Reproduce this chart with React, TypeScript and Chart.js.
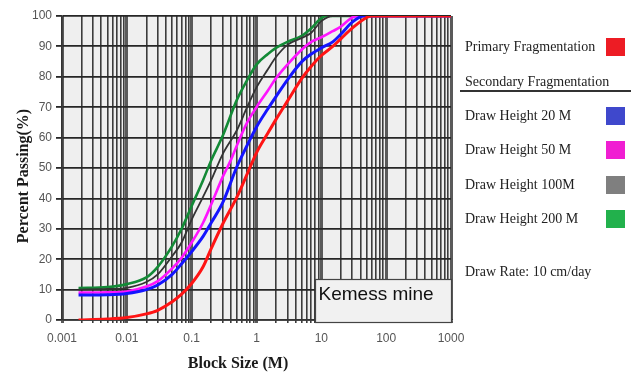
import React, { useEffect, useRef } from 'react';
import { Chart, registerables } from 'chart.js';

Chart.register(...registerables);

// ---- Axis ticks ----
const decades = [0.001, 0.01, 0.1, 1, 10, 100, 1000];
const decadeLabels = ['0.001', '0.01', '0.1', '1', '10', '100', '1000'];
const minorMultipliers = [2, 3, 4, 5, 6, 7, 8, 9];
const yMin = 0;
const yMax = 100;
const yStep = 10;

// ---- Series (block size in m, percent passing) ----
const primarySizes = [0.0018, 0.005, 0.01, 0.02, 0.03, 0.05, 0.07, 0.1, 0.15, 0.2, 0.3, 0.5, 0.7, 1, 1.5, 2, 3, 5, 7, 10, 15, 20, 30, 50, 60, 1000];
const primaryPassing = [0, 0.3, 0.8, 2, 3.2, 6, 8.5, 12, 17.5, 23.5, 31.5, 40.5, 47.5, 55, 61.5, 66, 72, 79.5, 83.5, 87, 90, 92.5, 96, 99.5, 100, 100];

const dh20Sizes = [0.0018, 0.005, 0.01, 0.02, 0.03, 0.05, 0.07, 0.1, 0.15, 0.2, 0.3, 0.5, 0.7, 1, 1.5, 2, 3, 5, 7, 10, 15, 20, 30, 45, 1000];
const dh20Passing = [8.2, 8.3, 8.7, 10, 11.5, 15, 18.5, 22.5, 27.5, 32, 38.5, 50.5, 57, 63.5, 69.5, 73.5, 79, 85, 87.5, 89.5, 91.5, 94, 98, 100, 100];

const dh50Sizes = [0.0018, 0.005, 0.01, 0.02, 0.03, 0.05, 0.07, 0.1, 0.15, 0.2, 0.3, 0.4, 0.5, 0.7, 1, 1.5, 2, 3, 5, 7, 10, 15, 20, 30, 40, 1000];
const dh50Passing = [9, 9.1, 9.4, 11, 12.8, 17, 20.5, 25.5, 32, 38, 47, 52.5, 57.5, 64.5, 70, 75.5, 79.5, 84, 89, 91.5, 93, 95, 96.5, 99.5, 100, 100];

const dh100Sizes = [0.0018, 0.005, 0.01, 0.02, 0.03, 0.05, 0.07, 0.1, 0.15, 0.2, 0.3, 0.5, 0.7, 1, 1.5, 2, 3, 5, 7, 10, 15, 1000];
const dh100Passing = [10, 10.2, 10.6, 12.5, 15, 21, 25.5, 33, 40.5, 46, 54.5, 62.5, 69.5, 76.5, 82.5, 86.5, 90.5, 92.8, 94.5, 98.3, 100, 100];

const dh200Sizes = [0.0018, 0.005, 0.01, 0.02, 0.03, 0.05, 0.07, 0.1, 0.15, 0.2, 0.3, 0.5, 0.7, 1, 1.5, 2, 3, 5, 7, 10, 12, 1000];
const dh200Passing = [10.5, 10.8, 11.8, 14, 17.5, 24.3, 30, 37.5, 46, 52.5, 60.5, 72.5, 78.5, 84, 87.5, 89.5, 91.5, 93.5, 96, 99.3, 100, 100];

// ---- Legend ----
const legendEntries = [
  { label: 'Primary Fragmentation', swatch: '#ed1c24' },
  { label: 'Draw Height 20 M', swatch: '#3f48cc' },
  { label: 'Draw Height 50 M', swatch: '#f01ed2' },
  { label: 'Draw Height 100M', swatch: '#7f7f7f' },
  { label: 'Draw Height 200 M', swatch: '#22b14c' },
];
const secondaryHeading = 'Secondary Fragmentation';
const drawRateNote = 'Draw Rate: 10 cm/day';
const annotationText = 'Kemess mine';
const xTitle = 'Block Size (M)';
const yTitle = 'Percent Passing(%)';

const xTicks: { value: number; label: string; decade: boolean }[] = [];
decades.forEach((d, i) => {
  xTicks.push({ value: d, label: decadeLabels[i], decade: true });
  if (i < decades.length - 1) {
    minorMultipliers.forEach((m) => xTicks.push({ value: d * m, label: '', decade: false }));
  }
});

const pts = (xs: number[], ys: number[]) => xs.map((x, i) => ({ x, y: ys[i] }));

const serif = '"Liberation Serif", "Times New Roman", serif';
const sans = '"Liberation Sans", Arial, sans-serif';

const decorPlugin = {
  id: 'decor',
  beforeDraw(chart: any) {
    const { ctx, chartArea: a } = chart;
    ctx.save();
    ctx.fillStyle = '#ffffff';
    ctx.fillRect(0, 0, chart.width, chart.height);
    ctx.fillStyle = '#efefef';
    ctx.fillRect(a.left, a.top, a.right - a.left, a.bottom - a.top);
    ctx.restore();
  },
  afterDatasetsDraw(chart: any) {
    const { ctx } = chart;
    const xs = chart.scales.x;
    const ys = chart.scales.y;
    const l = Math.round(xs.getPixelForValue(8)) + 0.5;
    const r = Math.round(xs.getPixelForValue(1000)) + 0.5;
    const t = Math.round(ys.getPixelForValue(13.6)) + 0.5;
    const b = Math.round(ys.getPixelForValue(-0.6)) + 0.5;
    ctx.save();
    ctx.fillStyle = '#f1f1f1';
    ctx.fillRect(l, t, r - l, b - t);
    ctx.strokeStyle = '#444';
    ctx.lineWidth = 1.2;
    ctx.strokeRect(l, t, r - l, b - t);
    ctx.fillStyle = '#111';
    ctx.font = `19px ${sans}`;
    ctx.textAlign = 'left';
    ctx.textBaseline = 'alphabetic';
    ctx.fillText(annotationText, l + 3, t + 20);
    ctx.restore();
  },
  afterDraw(chart: any) {
    const { ctx, chartArea: a } = chart;
    ctx.save();
    ctx.fillStyle = '#1a1a1a';
    ctx.font = `bold 16px ${serif}`;
    ctx.textAlign = 'center';
    ctx.textBaseline = 'middle';
    ctx.fillText(xTitle, a.left + 176, a.bottom + 44);
    ctx.translate(24, a.top + 160);
    ctx.rotate(-Math.PI / 2);
    ctx.fillText(yTitle, 0, 0);
    ctx.restore();
  },
};

export default function App() {
  const ref = useRef<HTMLCanvasElement | null>(null);

  useEffect(() => {
    const canvas = ref.current;
    if (!canvas) return;
    const mk = (label: string, xs: number[], ys: number[], color: string, width: number) => ({
      label,
      data: pts(xs, ys),
      borderColor: color,
      backgroundColor: color,
      borderWidth: width,
      pointRadius: 0,
      fill: false,
      cubicInterpolationMode: 'monotone' as const,
    });
    const chart = new Chart(canvas, {
      type: 'line',
      data: {
        datasets: [
          mk(legendEntries[0].label, primarySizes, primaryPassing, '#ff1414', 3),
          mk(legendEntries[1].label, dh20Sizes, dh20Passing, '#1414ff', 3),
          mk(legendEntries[2].label, dh50Sizes, dh50Passing, '#ff14ff', 2.6),
          mk(legendEntries[3].label, dh100Sizes, dh100Passing, '#333333', 1.8),
          mk(legendEntries[4].label, dh200Sizes, dh200Passing, '#138a36', 2.6),
        ],
      },
      options: {
        responsive: false,
        animation: false,
        devicePixelRatio: 1,
        layout: { padding: { left: 0, top: 16, right: 180, bottom: 0 } },
        plugins: {
          legend: { display: false },
          tooltip: { enabled: false },
        },
        scales: {
          x: {
            type: 'logarithmic',
            min: decades[0],
            max: decades[decades.length - 1],
            afterBuildTicks: (scale: any) => {
              scale.ticks = xTicks.map((t) => ({ value: t.value }));
            },
            afterFit: (scale: any) => {
              scale.height = 52;
            },
            ticks: {
              autoSkip: false,
              maxRotation: 0,
              padding: 8,
              color: '#555',
              font: { family: sans, size: 12 },
              callback: (_v: any, i: number) => xTicks[i] ? xTicks[i].label : '',
            },
            grid: {
              color: (c: any) => (xTicks[c.index] && xTicks[c.index].decade ? '#5a5a5a' : '#3c3c3c'),
              lineWidth: (c: any) => (xTicks[c.index] && xTicks[c.index].decade ? 3 : 1.6),
              tickLength: 3,
            },
            border: { display: true, color: '#333', width: 1.6 },
          },
          y: {
            type: 'linear',
            min: yMin,
            max: yMax,
            afterFit: (scale: any) => {
              scale.width = 62;
            },
            ticks: {
              stepSize: yStep,
              padding: 4,
              color: '#555',
              font: { family: sans, size: 12 },
            },
            grid: {
              color: '#262626',
              lineWidth: 1.8,
              tickLength: 6,
            },
            border: { display: true, color: '#333', width: 1.6 },
          },
        },
      },
      plugins: [decorPlugin],
    });
    return () => chart.destroy();
  }, []);

  const rowCenters = [47, 116, 150, 184.5, 219];
  const textStyle: React.CSSProperties = {
    position: 'absolute',
    left: 465,
    fontFamily: serif,
    fontSize: 14,
    lineHeight: '16px',
    color: '#222',
    whiteSpace: 'nowrap',
  };

  return (
    <div style={{ position: 'fixed', left: 0, top: 0, width: 631, height: 372, background: '#fff' }}>
      <canvas ref={ref} width={631} height={372} style={{ position: 'absolute', left: 0, top: 0 }} />
      {legendEntries.map((e, i) => (
        <React.Fragment key={e.label}>
          <div style={{ ...textStyle, top: rowCenters[i] - 8 }}>{e.label}</div>
          <div
            style={{
              position: 'absolute',
              left: 606,
              top: rowCenters[i] - 9,
              width: 19,
              height: 18,
              background: e.swatch,
            }}
          />
        </React.Fragment>
      ))}
      <div style={{ ...textStyle, top: 82 - 8 }}>{secondaryHeading}</div>
      <div style={{ position: 'absolute', left: 460, top: 90, width: 171, height: 1.5, background: '#333' }} />
      <div style={{ ...textStyle, top: 272 - 8 }}>{drawRateNote}</div>
    </div>
  );
}
